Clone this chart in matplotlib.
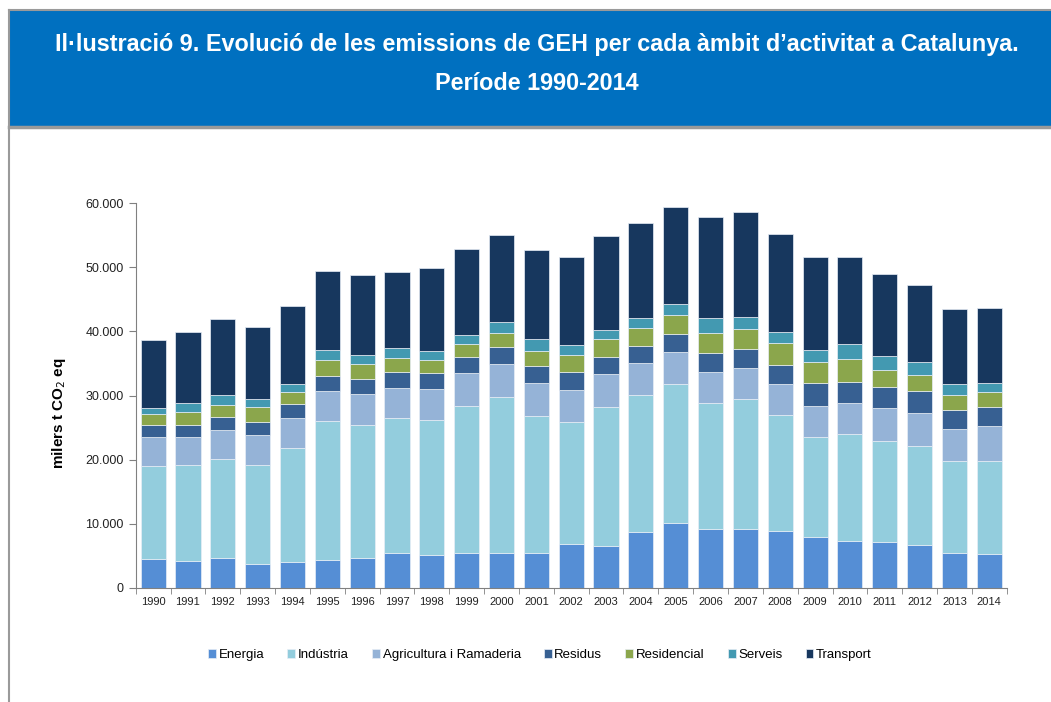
import numpy as np
import matplotlib
matplotlib.use('Agg')
import matplotlib.pyplot as plt
from matplotlib.patches import Rectangle
from matplotlib.lines import Line2D
from matplotlib.ticker import FuncFormatter

plt.rcParams['font.family'] = ['Liberation Sans', 'DejaVu Sans']

# ==================== dades (milers t CO2 eq) ====================
anys = [str(a) for a in range(1990, 2015)]
energia = [4420, 4160, 4630, 3750, 3950, 4370, 4580, 5360, 5150, 5360, 5360, 5460, 6760,
           6450, 8690, 10040, 9110, 9210, 8790, 7910, 7340, 7180, 6660, 5360, 5200]
industria = [14620, 14990, 15510, 15450, 17900, 21700, 20810, 21070, 21020, 23050, 24350, 21280, 19100,
             21750, 21380, 21750, 19710, 20190, 18160, 15610, 16650, 15710, 15450, 14410, 14620]
agricultura = [4530, 4420, 4520, 4630, 4630, 4680, 4790, 4740, 4790, 5040, 5200, 5150, 4990,
               5100, 5050, 5050, 4890, 4890, 4840, 4890, 4890, 5150, 5150, 5000, 5410]
residus = [1770, 1870, 1980, 2080, 2140, 2290, 2340, 2440, 2550, 2550, 2600, 2760, 2860,
           2700, 2650, 2700, 2920, 3010, 3020, 3480, 3220, 3230, 3440, 2960, 2920]
residencial = [1720, 2030, 1870, 2340, 1870, 2500, 2390, 2240, 2030, 2030, 2290, 2290, 2660,
               2810, 2710, 3020, 3170, 3130, 3330, 3330, 3590, 2710, 2490, 2390, 2340]
serveis = [980, 1350, 1610, 1200, 1300, 1560, 1410, 1510, 1400, 1410, 1620, 1870, 1460,
           1410, 1560, 1720, 2240, 1820, 1820, 1880, 2340, 2180, 2090, 1670, 1510]
transport = [10670, 11030, 11870, 11290, 12120, 12380, 12430, 11960, 12960, 13370, 13630, 13900, 13780,
             14620, 14930, 15090, 15820, 16440, 15240, 14510, 13580, 12850, 11910, 11710, 11700]

series = [
    ('Energia', energia, '#558ED5'),
    ('Indústria', industria, '#93CDDD'),
    ('Agricultura i Ramaderia', agricultura, '#95B3D7'),
    ('Residus', residus, '#376092'),
    ('Residencial', residencial, '#8BA64C'),
    ('Serveis', serveis, '#4399B1'),
    ('Transport', transport, '#17375E'),
]

# ==================== figura ====================
fig = plt.figure(figsize=(10.51, 7.02), dpi=100)
W, H = 1051, 702

# capçalera blava
fig.patches.append(Rectangle((9 / W, 1 - 126 / H), 1, 116 / H, transform=fig.transFigure,
                             facecolor='#0070C0', edgecolor='none', zorder=0))
fig.lines.append(Line2D([9 / W, 1], [1 - 10 / H, 1 - 10 / H], transform=fig.transFigure,
                        color='#9A9A9A', lw=1.5))
fig.lines.append(Line2D([9 / W, 1], [1 - 126.5 / H, 1 - 126.5 / H], transform=fig.transFigure,
                        color='#9A9A9A', lw=2.5))
fig.lines.append(Line2D([9 / W, 9 / W], [0, 1 - 10 / H], transform=fig.transFigure,
                        color='#9A9A9A', lw=1.5))
fig.text(0.511, 1 - 45 / H, 'Il·lustració 9. Evolució de les emissions de GEH per cada àmbit d\u2019activitat a Catalunya.',
         ha='center', va='center', color='white', fontsize=16.8, fontweight='bold')
fig.text(0.511, 1 - 83 / H, 'Període 1990-2014', ha='center', va='center', color='white',
         fontsize=16.8, fontweight='bold')

ax = fig.add_axes([135.7 / W, 1 - 587.7 / H, 871 / W, 384.4 / H])
x = np.arange(len(anys))
bottom = np.zeros(len(anys))
for nom, vals, col in series:
    ax.bar(x, vals, width=0.72, bottom=bottom, color=col, edgecolor='#E8EEF6', linewidth=0.5, label=nom)
    bottom += np.array(vals)

ax.set_xlim(-0.5, len(anys) - 0.5)
ax.set_ylim(0, 60000)
ax.set_yticks(np.arange(0, 60001, 10000))
ax.yaxis.set_major_formatter(FuncFormatter(lambda v, p: f'{int(v):,}'.replace(',', '.')))
ax.set_xticks(x)
ax.set_xticklabels(anys)
ax.set_xticks(np.arange(-0.5, len(anys), 1), minor=True)
ax.tick_params(axis='x', which='major', length=0, labelsize=8, pad=7, colors='#222222')
ax.tick_params(axis='x', which='minor', length=4, color='#808080')
ax.tick_params(axis='y', length=5, color='#808080', labelsize=9, labelcolor='#222222')
for s in ['top', 'right']:
    ax.spines[s].set_visible(False)
for s in ['left', 'bottom']:
    ax.spines[s].set_color('#808080')

fig.text(59 / W, 1 - 413 / H, 'milers t CO$_2$ eq', rotation=90, ha='center', va='center',
         fontsize=11, fontweight='bold')

handles, labels = ax.get_legend_handles_labels()
ax.legend(handles, labels, loc='center', bbox_to_anchor=(540 / W, 1 - 655 / H),
          bbox_transform=fig.transFigure, ncol=7, frameon=False, fontsize=9.5,
          handlelength=0.6, handleheight=0.6, handletextpad=0.2, columnspacing=1.75)

fig.savefig('out.png', dpi=100)
